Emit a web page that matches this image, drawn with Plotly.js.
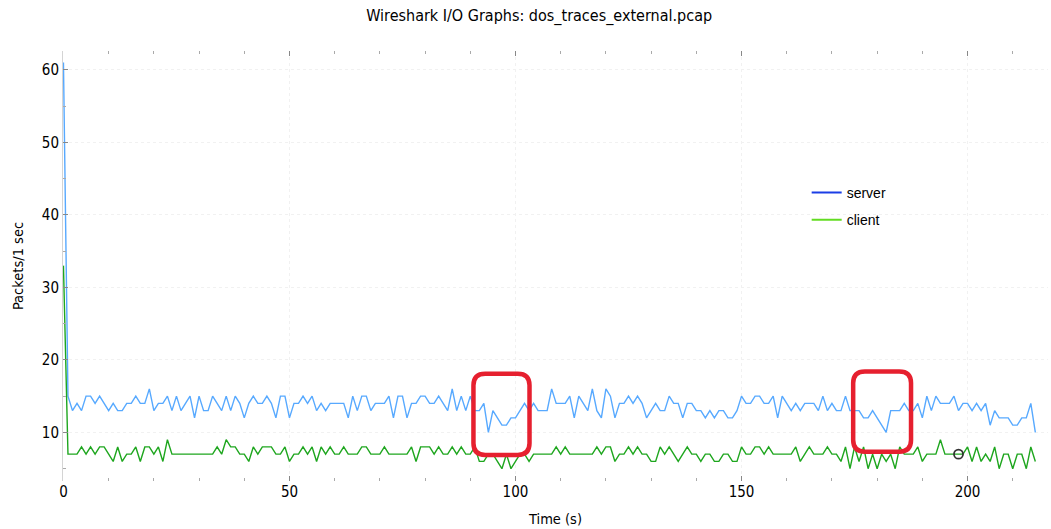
<!DOCTYPE html>
<html>
<head>
<meta charset="utf-8">
<script src="https://cdn.plot.ly/plotly-3.0.1.min.js"></script>
<style>
  html, body { margin: 0; padding: 0; background: #ffffff; }
  #chart { width: 1051px; height: 529px; }
</style>
</head>
<body>
<div id="chart"></div>
<script>
// ---- Data ----
const seconds = [
  0,1,2,3,4,5,6,7,8,9,10,11,12,13,14,15,16,17,18,19,20,21,22,23,24,25,26,27,28,29,
  30,31,32,33,34,35,36,37,38,39,40,41,42,43,44,45,46,47,48,49,50,51,52,53,54,55,56,57,58,59,
  60,61,62,63,64,65,66,67,68,69,70,71,72,73,74,75,76,77,78,79,80,81,82,83,84,85,86,87,88,89,
  90,91,92,93,94,95,96,97,98,99,100,101,102,103,104,105,106,107,108,109,110,111,112,113,114,115,116,117,118,119,
  120,121,122,123,124,125,126,127,128,129,130,131,132,133,134,135,136,137,138,139,140,141,142,143,144,145,146,147,148,149,
  150,151,152,153,154,155,156,157,158,159,160,161,162,163,164,165,166,167,168,169,170,171,172,173,174,175,176,177,178,179,
  180,181,182,183,184,185,186,187,188,189,190,191,192,193,194,195,196,197,198,199,200,201,202,203,204,205,206,207,208,209,
  210,211,212,213,214,215
];

const serverPackets = [
  61,15,13,14,13,15,15,14,15,14, 13,14,13,13,14,14,15,14,14,16, 13,14,14,15,13,15,13,14,15,12,
  15,13,13,15,14,13,15,13,15,14, 12,14,15,14,14,15,14,12,15,15, 12,14,14,15,14,15,13,14,13,14,
  14,14,14,12,15,13,15,15,13,14, 14,14,15,12,15,15,12,14,14,15, 15,14,14,15,14,13,16,13,15,13,
  15,13,13,14,10,13,12,11,11,12, 12,13,14,13,14,13,13,13,16,14, 14,14,15,12,15,14,13,16,13,12,
  16,15,12,14,14,15,14,15,14,12, 13,14,13,13,15,14,14,12,14,14, 13,13,12,13,12,13,13,12,12,13,
  15,14,14,15,15,14,14,15,12,15, 14,13,14,13,14,14,14,13,15,13, 14,13,13,15,13,13,13,12,12,13,
  12,11,10,13,13,13,14,13,13,14, 12,15,13,15,14,14,14,15,13,14, 14,13,14,13,14,11,13,12,12,12,
  11,11,12,12,14,10
];

const clientPackets = [
  33,7,7,7,8,7,8,7,8,8, 7,6,8,6,7,7,8,6,8,8, 7,8,6,9,7,7,7,7,7,7,
  7,7,7,7,8,7,9,8,8,7, 7,6,8,7,8,8,8,7,7,8, 6,7,7,8,7,8,6,8,7,8,
  7,7,8,7,7,7,8,8,7,7, 7,8,7,7,7,7,7,8,6,8, 8,8,7,8,7,7,8,7,8,7,
  7,8,6,6,7,7,6,5,7,5, 6,7,7,6,7,7,7,7,7,8, 7,8,7,7,7,7,7,7,8,7,
  8,8,6,7,7,8,7,8,7,7, 6,6,8,7,8,7,6,7,8,7, 7,6,7,7,6,6,7,7,6,6,
  8,7,7,8,8,7,8,7,7,7, 7,7,8,6,7,8,7,7,7,8, 7,7,6,8,5,8,6,8,5,7,
  5,7,6,7,5,8,7,7,7,8, 6,7,7,7,9,7,7,7,7,7, 8,6,8,6,7,6,8,5,7,7,
  5,7,7,5,8,6
];

const seriesNames = ["server", "client"];

// marked point (open circle)
const markedTime = [198];
const markedValue = [7];

// highlighted windows (red rounded boxes)
const highlightStart = [90.7, 174.7];
const highlightEnd   = [103.1, 187.5];
const highlightLow   = [6.9, 7.35];
const highlightHigh  = [18.1, 18.4];

// ---- Styling ----
const lineBlue = "#57a9ff";
const lineGreen = "#1ea61e";
const legendBlue = "#1b3ee6";
const legendGreen = "#63dc22";
const condensed = "DejaVu Sans Condensed, DejaVu Sans, sans-serif";

const traces = [
  { x: seconds, y: serverPackets, type: "scatter", mode: "lines",
    line: { color: lineBlue, width: 1.4 }, showlegend: false, hoverinfo: "skip" },
  { x: seconds, y: clientPackets, type: "scatter", mode: "lines",
    line: { color: lineGreen, width: 1.4 }, showlegend: false, hoverinfo: "skip" },
  { x: markedTime, y: markedValue, type: "scatter", mode: "markers",
    marker: { symbol: "circle-open", size: 9, color: "#333333", line: { color: "#333333", width: 1.8 } },
    showlegend: false, hoverinfo: "skip" },
  { x: [null], y: [null], type: "scatter", mode: "lines", name: seriesNames[0],
    legendgroup: "a", line: { color: legendBlue, width: 2 } },
  { x: [null], y: [null], type: "scatter", mode: "lines", name: seriesNames[1],
    legendgroup: "b", line: { color: legendGreen, width: 2 } }
];

function roundedBox(x0, x1, y0, y1) {
  const rx = 2.6, ry = 1.6;
  return "M " + (x0 + rx) + "," + y1 +
    " L " + (x1 - rx) + "," + y1 +
    " Q " + x1 + "," + y1 + " " + x1 + "," + (y1 - ry) +
    " L " + x1 + "," + (y0 + ry) +
    " Q " + x1 + "," + y0 + " " + (x1 - rx) + "," + y0 +
    " L " + (x0 + rx) + "," + y0 +
    " Q " + x0 + "," + y0 + " " + x0 + "," + (y0 + ry) +
    " L " + x0 + "," + (y1 - ry) +
    " Q " + x0 + "," + y1 + " " + (x0 + rx) + "," + y1 + " Z";
}

const shapes = highlightStart.map((s, i) => ({
  type: "path", xref: "x", yref: "y", layer: "above",
  path: roundedBox(s, highlightEnd[i], highlightLow[i], highlightHigh[i]),
  line: { color: "#e6202f", width: 4.5 }
}));

const layout = {
  width: 1051, height: 529,
  paper_bgcolor: "#ffffff", plot_bgcolor: "#ffffff",
  margin: { l: 63, r: 3, t: 51, b: 48 },
  font: { family: condensed, size: 14, color: "#000000" },
  title: {
    text: "Wireshark I/O Graphs: dos_traces_external.pcap",
    font: { family: condensed, size: 16, color: "#000000" },
    xref: "container", x: 0.513, xanchor: "center",
    yref: "container", y: 0.97, yanchor: "middle"
  },
  xaxis: {
    range: [-0.1, 217.8],
    title: { text: "Time (s)", font: { family: condensed, size: 14.5 }, standoff: 13 },
    tickmode: "linear", tick0: 0, dtick: 50,
    ticks: "inside", ticklen: 5, tickcolor: "#888888", tickwidth: 1,
    minor: { dtick: 10, ticks: "inside", ticklen: 3, tickcolor: "#aaaaaa", showgrid: false },
    tickfont: { family: condensed, size: 15, color: "#000000" },
    showgrid: true, gridcolor: "#f1f1f1", griddash: "dot", gridwidth: 1,
    zeroline: false, showline: false, mirror: "ticks"
  },
  yaxis: {
    range: [3.3, 62.6],
    title: { text: "Packets/1 sec", font: { family: condensed, size: 14.5 }, standoff: 14 },
    tickmode: "linear", tick0: 0, dtick: 10,
    ticks: "inside", ticklen: 5, tickcolor: "#888888", tickwidth: 1,
    minor: { dtick: 5, ticks: "inside", ticklen: 3, tickcolor: "#aaaaaa", showgrid: false },
    tickfont: { family: condensed, size: 15, color: "#000000" },
    showgrid: true, gridcolor: "#f1f1f1", griddash: "dot", gridwidth: 1,
    zeroline: false, showline: true, linecolor: "#d4d4d4", linewidth: 1
  },
  legend: {
    x: 0.755, xanchor: "left", y: 0.707, yanchor: "top",
    bgcolor: "rgba(0,0,0,0)", borderwidth: 0,
    font: { family: "Liberation Sans, Arial, sans-serif", size: 14, color: "#000000" },
    traceorder: "grouped", tracegroupgap: 6
  },
  shapes: shapes,
  showlegend: true
};

Plotly.newPlot("chart", traces, layout, { displayModeBar: false, staticPlot: true });
</script>
</body>
</html>
